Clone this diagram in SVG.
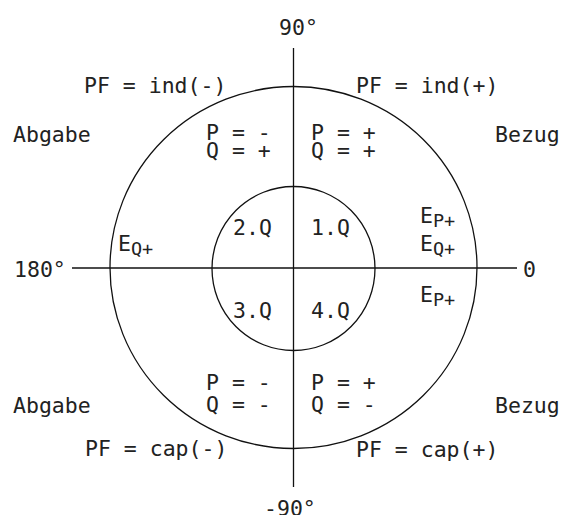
<svg xmlns="http://www.w3.org/2000/svg" width="561" height="515" viewBox="0 0 561 515">
  <style>
    text { font-family: "DejaVu Sans Mono", "Liberation Mono", monospace; font-size: 21.5px; fill: #222; }
    .sub { font-size: 18.5px; }
    .ln { stroke: #111; stroke-width: 1.3; fill: none; }
  </style>
  <rect x="0" y="0" width="561" height="515" fill="#fff"/>
  <g id="connectors">
    <line class="ln" x1="293.5" y1="48" x2="293.5" y2="487"/>
    <line class="ln" x1="72" y1="268" x2="517" y2="268"/>
  </g>
  <g id="outer-circle">
    <ellipse class="ln" cx="293.5" cy="267.5" rx="183.5" ry="181"/>
  </g>
  <g id="inner-circle">
    <ellipse class="ln" cx="293.5" cy="268.5" rx="81.5" ry="82"/>
  </g>
  <g id="axis-labels">
    <text x="279" y="35">90°</text>
    <text x="14" y="277">180°</text>
    <text x="523" y="277">0</text>
    <text x="264" y="516">-90°</text>
  </g>
  <g id="quadrant-1">
    <text x="356" y="93">PF = ind(+)</text>
    <text x="495" y="142">Bezug</text>
    <text x="311" y="140">P = +</text>
    <text x="311" y="158">Q = +</text>
    <text x="311" y="235">1.Q</text>
    <text x="420" y="223">E<tspan class="sub" dy="4">P+</tspan></text>
    <text x="420" y="251">E<tspan class="sub" dy="4">Q+</tspan></text>
  </g>
  <g id="quadrant-2">
    <text x="84" y="93">PF = ind(-)</text>
    <text x="13" y="142">Abgabe</text>
    <text x="206" y="140">P = -</text>
    <text x="206" y="158">Q = +</text>
    <text x="233" y="235">2.Q</text>
    <text x="118" y="251">E<tspan class="sub" dy="4">Q+</tspan></text>
  </g>
  <g id="quadrant-3">
    <text x="206" y="390">P = -</text>
    <text x="206" y="412">Q = -</text>
    <text x="13" y="413">Abgabe</text>
    <text x="85" y="456">PF = cap(-)</text>
    <text x="233" y="318">3.Q</text>
  </g>
  <g id="quadrant-4">
    <text x="311" y="390">P = +</text>
    <text x="311" y="412">Q = -</text>
    <text x="495" y="413">Bezug</text>
    <text x="356" y="457">PF = cap(+)</text>
    <text x="311" y="318">4.Q</text>
    <text x="420" y="302">E<tspan class="sub" dy="4">P+</tspan></text>
  </g>
</svg>
